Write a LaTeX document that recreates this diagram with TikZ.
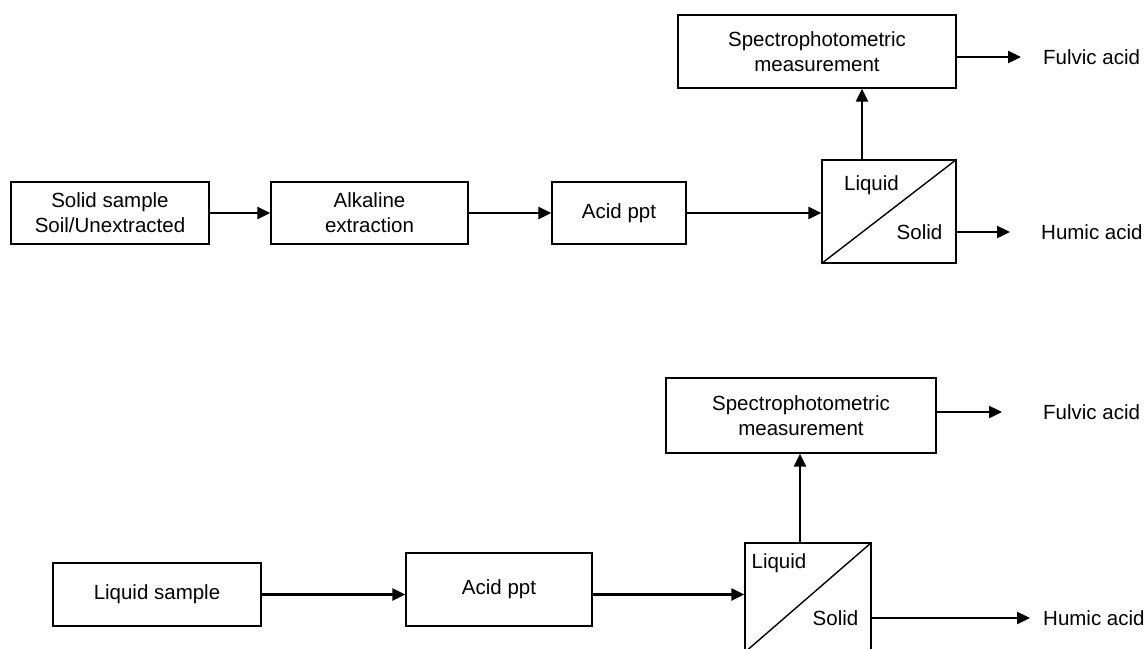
\documentclass[tikz,border=0pt]{standalone}
\usepackage{fontspec}
\setmainfont{Liberation Sans}
\usetikzlibrary{arrows.meta}
\begin{document}
\begin{tikzpicture}[x=1pt,y=-1pt,
  every node/.style={font=\fontsize{20.5}{25}\selectfont, inner sep=0pt},
  procbox/.style={draw, line width=1.4pt, align=center},
  flow/.style={line width=2.4pt, -{Triangle[length=13pt,width=12pt]}},
  sepline/.style={line width=1.4pt}]
\useasboundingbox (0,0) rectangle (1146,648);
% ---------- top row ----------
\node[procbox, minimum width=198pt, minimum height=62pt] (ss) at (110,213) {Solid sample\\Soil/Unextracted};
\node[procbox, minimum width=197pt, minimum height=62pt] (ae) at (369.5,213) {Alkaline\\extraction};
\node[procbox, minimum width=134pt, minimum height=62pt] (ap1) at (619,213) {Acid ppt};
\node[procbox, minimum width=134pt, minimum height=103pt] (sep1) at (889,211.5) {};
\node[procbox, minimum width=278pt, minimum height=73pt] (sp1) at (817,51.5) {Spectrophotometric\\measurement};
\draw[sepline] (sep1.south west) -- (sep1.north east);
\node (liq1) at (871.5,185) {Liquid};
\node (sol1) at (919.5,232) {Solid};
\coordinate (fa1) at (1021,57);
\coordinate (ha1) at (1010,232);
\node[anchor=west] (fat1) at (1043,57) {Fulvic acid};
\node[anchor=west] (hat1) at (1041,232) {Humic acid};
\draw[flow] (ss.east) -- (ss.east -| ae.west);
\draw[flow] (ae.east) -- (ae.east -| ap1.west);
\draw[flow] (ap1.east) -- (ap1.east -| sep1.west);
\draw[flow] ([xshift=-27pt]sep1.north) -- ([xshift=-27pt]sep1.north |- sp1.south);
\draw[flow] (sp1.east |- fa1) -- (fa1);
\draw[flow] (sep1.east |- ha1) -- (ha1);
% ---------- bottom row ----------
\node[procbox, minimum width=208pt, minimum height=63pt] (ls) at (157,594.5) {Liquid sample};
\node[procbox, minimum width=186pt, minimum height=73pt] (ap2) at (499,589.5) {Acid ppt};
\node[procbox, minimum width=126pt, minimum height=109pt] (sep2) at (808,597.5) {};
\node[procbox, minimum width=270pt, minimum height=75pt] (sp2) at (801,415.5) {Spectrophotometric\\measurement};
\draw[sepline] (sep2.south west) -- (sep2.north east);
\node (liq2) at (779,563) {Liquid};
\node (sol2) at (835.5,618) {Solid};
\coordinate (fa2) at (1002,412);
\coordinate (ha2) at (1030,618);
\node[anchor=west] (fat2) at (1043,412) {Fulvic acid};
\node[anchor=west] (hat2) at (1043,618) {Humic acid};
\draw[flow] (ls.east) -- (ls.east -| ap2.west);
\draw[flow] (ap2.east |- ls.east) -- (ls.east -| sep2.west);
\draw[flow] ([xshift=-8pt]sep2.north) -- ([xshift=-8pt]sep2.north |- sp2.south);
\draw[flow] (sp2.east |- fa2) -- (fa2);
\draw[flow] (sep2.east |- ha2) -- (ha2);
\end{tikzpicture}
\end{document}
